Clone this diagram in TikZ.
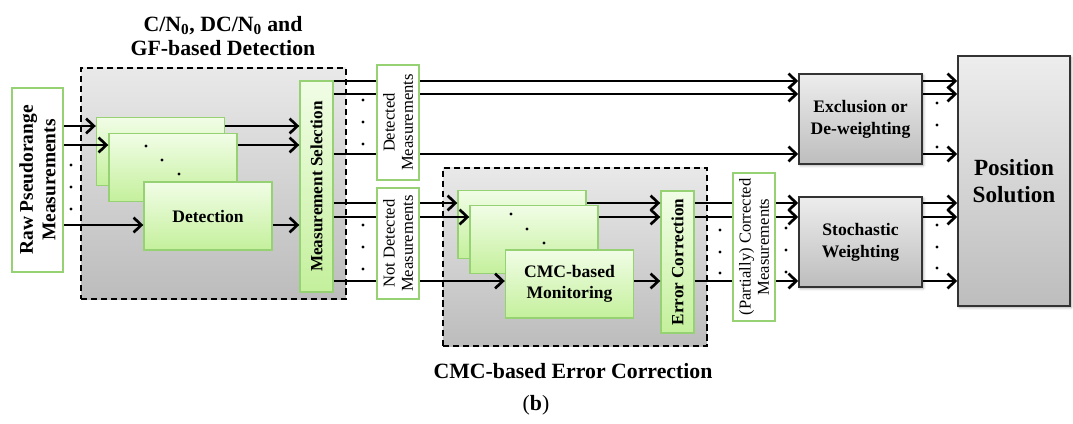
\documentclass[tikz,border=0pt]{standalone}
\usepackage{fontspec}
\setmainfont{Liberation Serif}
\usepackage{xcolor}
\usepackage{tikz}
\usetikzlibrary{arrows.meta, positioning, calc, shadows.blur}
\definecolor{leafpale}{HTML}{F1FDE6}
\definecolor{leafdeep}{HTML}{C4F09C}
\definecolor{leafedge}{HTML}{96D273}
\definecolor{slatepale}{HTML}{EDEDED}
\definecolor{slatedeep}{HTML}{BDBDBD}
\definecolor{slateedge}{HTML}{333333}
\definecolor{grouppale}{HTML}{E9E9E9}
\definecolor{groupdeep}{HTML}{BCBCBC}

\tikzset{
  flow/.style={line width=1.9pt, -{Straight Barb[length=5.5pt,width=10.5pt]}},
  detbox/.style={draw=leafedge, line width=1pt, top color=leafpale, bottom color=leafdeep,
    minimum width=3.2cm, minimum height=1.7cm, align=center, inner sep=1pt,
    font=\fontsize{12.5}{15}\selectfont\bfseries},
  selbox/.style={draw=leafedge, line width=1pt, top color=leafpale, bottom color=leafdeep,
    rotate=90, minimum height=0.825cm, inner sep=1pt, font=\fontsize{12.2}{14}\selectfont\bfseries},
  lblbox/.style={draw=leafedge, line width=1.1pt, fill=white, rotate=90, align=center,
    minimum height=1.05cm, inner sep=1pt, font=\fontsize{11.8}{13}\selectfont},
  greybox/.style={draw=slateedge, line width=1.1pt, top color=slatepale, bottom color=slatedeep,
    align=center, inner sep=1pt, font=\fontsize{12.5}{15.5}\selectfont\bfseries,
    blur shadow={shadow xshift=1pt, shadow yshift=-1pt, shadow blur steps=4, shadow opacity=35}},
  grpbox/.style={draw=black, dash pattern=on 4.3pt off 2.8pt, line width=1pt,
    top color=grouppale, bottom color=groupdeep, minimum width=#1},
  grptitle/.style={align=center, font=\fontsize{15.5}{17}\selectfont\bfseries},
}

\begin{document}
\begin{tikzpicture}[x=0.025cm, y=-0.025cm]
    \useasboundingbox (0,0) rectangle (1073,423);
    % dashed groups in the back
    \node[grpbox=6.625cm, minimum height=5.775cm] (grpdet) at (213.5,183.5) {};
    \node[grpbox=6.6cm, minimum height=4.45cm] (grpcmc) at (575,257) {};

    % detection stack
    \node[lblbox, minimum width=4.6cm, minimum height=1.275cm, font=\fontsize{13.8}{16}\selectfont\bfseries] (raw) at (37.5,180) {Raw Pseudorange\\Measurements};
    \node[detbox] (detA) at (160.5,151.5) {};
    \node[detbox] (detB) at (173,167.5) {};
    \node[detbox] (detC) at (208,216) {Detection};
    \node[selbox, minimum width=5.275cm] (msel) at (316.5,186.5) {Measurement Selection};

    % CMC stack
    \node[detbox] (cmcA) at (522,224.5) {};
    \node[detbox] (cmcB) at (534,239.5) {};
    \node[detbox] (cmcC) at (569.5,284) {CMC-based\\Monitoring};
    \node[selbox, minimum width=3.55cm] (ecorr) at (677.5,262) {Error Correction};

    % right hand blocks
    \node[greybox, minimum width=3.075cm, minimum height=2.25cm] (excl) at (860.5,119) {Exclusion or\\De-weighting};
    \node[greybox, minimum width=3.075cm, minimum height=2.25cm] (stoch) at (860.5,242) {Stochastic\\Weighting};
    \node[greybox, minimum width=2.8cm, minimum height=6.25cm, font=\fontsize{16.5}{19.5}\selectfont\bfseries] (pos) at (1014,181) {Position\\Solution};

    % rows of the measurement lines
    \coordinate (ya1) at (0,126);
    \coordinate (ya2) at (0,145);
    \coordinate (ya3) at (0,225);
    \coordinate (yd1) at (0,81);
    \coordinate (yd2) at (0,94);
    \coordinate (yd3) at (0,154);
    \coordinate (yn1) at (0,203);
    \coordinate (yn2) at (0,217);
    \coordinate (yn3) at (0,281);

    \draw[flow] (raw.south |- ya1) -- (detA.west |- ya1);
    \draw[flow] (raw.south |- ya2) -- (detB.west |- ya2);
    \draw[flow] (raw.south |- ya3) -- (detC.west |- ya3);
    \draw[flow] (detA.east |- ya1) -- (msel.north |- ya1);
    \draw[flow] (detB.east |- ya2) -- (msel.north |- ya2);
    \draw[flow] (detC.east |- ya3) -- (msel.north |- ya3);
    \foreach \r in {yd1,yd2,yd3} {
      \draw[flow] (msel.south |- \r) -- (excl.west |- \r);
      \draw[flow] (excl.east |- \r) -- (pos.west |- \r);
    }
    \draw[flow] (msel.south |- yn1) -- (cmcA.west |- yn1);
    \draw[flow] (msel.south |- yn2) -- (cmcB.west |- yn2);
    \draw[flow] (msel.south |- yn3) -- (cmcC.west |- yn3);
    \draw[flow] (cmcA.east |- yn1) -- (ecorr.north |- yn1);
    \draw[flow] (cmcB.east |- yn2) -- (ecorr.north |- yn2);
    \draw[flow] (cmcC.east |- yn3) -- (ecorr.north |- yn3);
    \foreach \r in {yn1,yn2,yn3} {
      \draw[flow] (ecorr.south |- \r) -- (stoch.west |- \r);
      \draw[flow] (stoch.east |- \r) -- (pos.west |- \r);
    }

    % the little dots
    \foreach \y in {165,187,209} \fill (71,\y) circle (1.1pt);
    \foreach \x/\y in {146/146,162/160,179/174,511/214,527/229,544/243} \fill (\x,\y) circle (1.1pt);
    \foreach \y in {100,122,144,225,247,269} \fill (363,\y) circle (1.1pt);
    \foreach \y in {230,252,273} \fill (720,\y) circle (1.1pt);
    \foreach \y in {228,250,272} \fill (786,\y) circle (1.1pt);
    \foreach \y in {103,125,147,225,247,268} \fill (937,\y) circle (1.1pt);

    % labels sitting on the lines
    \node[lblbox, minimum width=2.875cm] (detlab) at (398,122.5) {Detected\\Measurements};
    \node[lblbox, minimum width=2.775cm] (ndetlab) at (398,243.5) {Not Detected\\Measurements};
    \node[lblbox, minimum width=3.7cm] (pclab) at (754,247) {(Partially) Corrected\\Measurements};

    % titles
    \node[grptitle] (dettitle) at (223,36) {C/N\textsubscript{0}, DC/N\textsubscript{0} and\\GF-based Detection};
    \node[grptitle] (cmctitle) at (573,371) {CMC-based Error Correction};
    \node[font=\fontsize{15.5}{17}\selectfont] (caption) at (536,405) {(\textbf{b})};
\end{tikzpicture}
\end{document}
